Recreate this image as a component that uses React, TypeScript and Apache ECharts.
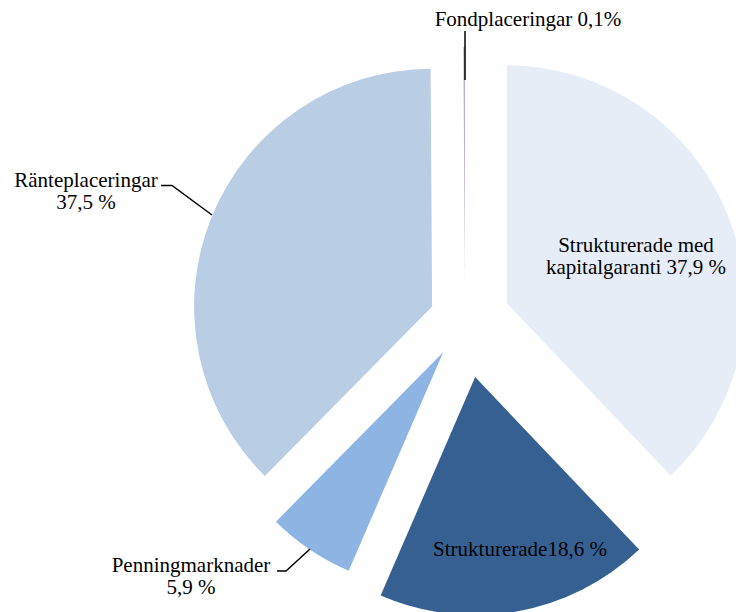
import React, { useEffect, useRef } from "react";
import * as echarts from "echarts";

const categories = [
  "Strukturerade med kapitalgaranti",
  "Strukturerade",
  "Penningmarknader",
  "Ränteplaceringar",
  "Fondplaceringar",
];
const values = [37.9, 18.6, 5.9, 37.5, 0.1];
const labelTexts = [
  "Strukturerade med\nkapitalgaranti 37,9 %",
  "Strukturerade18,6 %",
  "Penningmarknader\n5,9 %",
  "Ränteplaceringar\n37,5 %",
  "Fondplaceringar 0,1%",
];
const colors = ["#E6EDF7", "#376092", "#8EB4E3", "#B9CDE5", "#B3A2C7"];
const explode = [45, 58, 39, 35.5, 35];

const FONT = '21px "Liberation Serif", "Times New Roman", serif';

export default function App() {
  const ref = useRef<HTMLDivElement>(null);
  useEffect(() => {
    if (!ref.current) return;
    const chart = echarts.init(ref.current, undefined, { renderer: "svg" });
    const series = categories.map((_, si) => ({
      type: "pie",
      center: [465, 320],
      radius: [0, 238],
      startAngle: 90,
      clockwise: true,
      silent: true,
      selectedMode: "single",
      selectedOffset: explode[si],
      emphasis: { disabled: true },
      label: { show: false },
      labelLine: { show: false },
      z: 2,
      data: categories.map((name, i) => ({
        name,
        value: values[i],
        selected: i === si,
        itemStyle: {
          color: i === si ? colors[i] : "rgba(0,0,0,0)",
          borderWidth: 0,
        },
      })),
    }));

    const textEl = (idx: number, x: number, y: number, color = "#000") => ({
      type: "text",
      x,
      y,
      z: 100,
      style: {
        text: labelTexts[idx],
        font: FONT,
        fill: color,
        align: "center",
        verticalAlign: "middle",
        textAlign: "center",
        textVerticalAlign: "middle",
        lineHeight: 22,
      },
    });

    chart.setOption({
      animation: false,
      backgroundColor: "#ffffff",
      series,
      graphic: [
        textEl(0, 636, 256),
        textEl(1, 520, 549),
        textEl(2, 191, 576),
        textEl(3, 86, 191),
        textEl(4, 528, 19),
        {
          type: "line",
          z: 100,
          shape: { x1: 465, y1: 31, x2: 465, y2: 80 },
          style: { stroke: "#000", lineWidth: 1.5 },
        },
        {
          type: "polyline",
          z: 100,
          shape: { points: [[161, 185.5], [172, 185.5], [212, 215]] },
          style: { stroke: "#000", lineWidth: 1.5, fill: null },
        },
        {
          type: "polyline",
          z: 100,
          shape: { points: [[277, 571], [286, 571], [310, 549]] },
          style: { stroke: "#000", lineWidth: 1.5, fill: null },
        },
      ],
    });
    return () => chart.dispose();
  }, []);
  return (
    <div
      ref={ref}
      style={{ position: "absolute", left: 0, top: 0, width: 736, height: 612 }}
    />
  );
}
